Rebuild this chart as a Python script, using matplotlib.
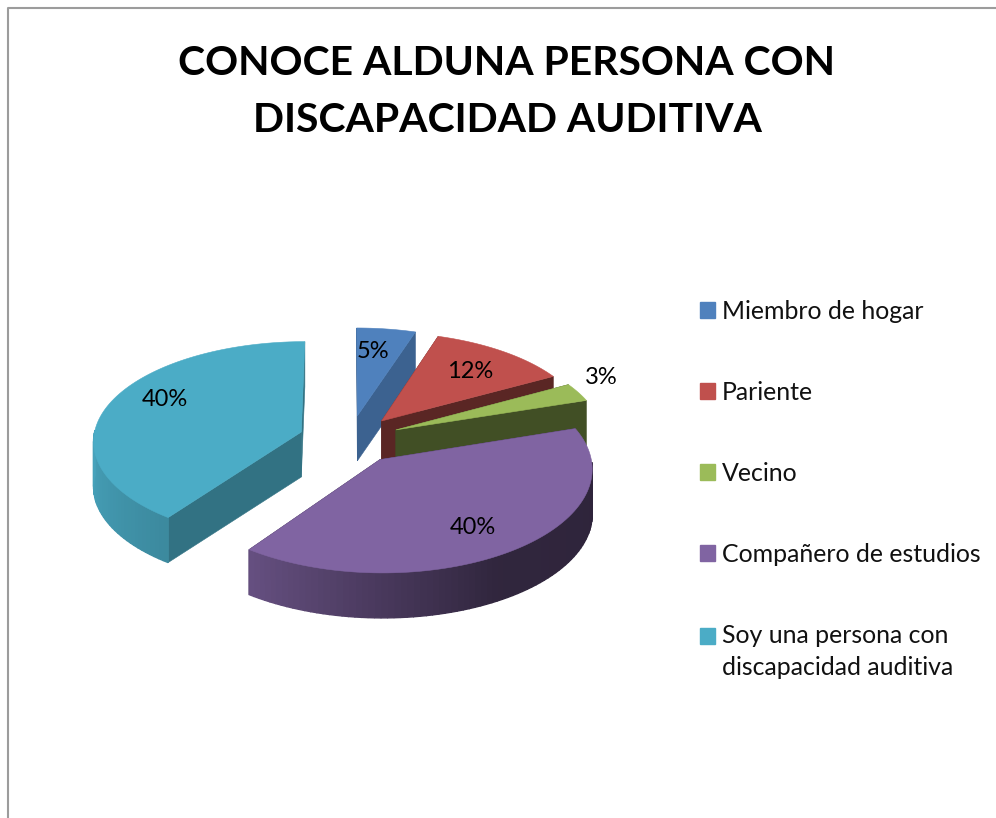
import numpy as np
import matplotlib
matplotlib.use("Agg")
import matplotlib.pyplot as plt
from matplotlib.patches import Polygon, Patch

categories = ["Miembro de hogar", "Pariente", "Vecino", "Compañero de estudios",
              "Soy una persona con\ndiscapacidad auditiva"]
values = [5, 12, 3, 40, 40]
labels = ["5%", "12%", "3%", "40%", "40%"]
colors = ["#4F81BD", "#C0504D", "#9BBB59", "#8064A2", "#4BACC6"]
title = "CONOCE ALDUNA PERSONA CON\nDISCAPACIDAD AUDITIVA"

# projection of the pie's ground plane to the pixel grid
CX, CY, RX, RY, PERSP_X, PERSP_Y, EXPLODE, DEPTH = 349.5, 439.5, 208, 99.6, 0.08, 0.088, 0.245, 45
wall_shade = [0.76, 0.47, 0.42, 0.40, 0.66]
label_xy = [(373, 352), (470, 372), (601, 378), (473, 528), (165, 400)]

plt.rcParams["font.family"] = ["Lato", "DejaVu Sans"]
fig = plt.figure(figsize=(9.96, 8.18), dpi=100)
ax = fig.add_axes([0, 0, 1, 1])
ax.set_xlim(0, 996)
ax.set_ylim(818, 0)
ax.axis("off")

ax.plot([8, 8, 996], [818, 8, 8], color="#9C9C9C", lw=1.5, solid_capstyle="butt")


def project(x, y):
    return CX + RX * x / (1 + PERSP_X * y), CY - RY * y / (1 + PERSP_Y * y)


def shade(c, k):
    return tuple(v * k for v in matplotlib.colors.to_rgb(c))


def poly(pts, col, z, lw=0.4):
    ax.add_patch(Polygon(pts, closed=True, facecolor=col, edgecolor=col, lw=lw, zorder=z))


order = [0, 1, 2, 4, 3]
edges = np.concatenate([[0], np.cumsum(values)]) / np.sum(values) * 360
for z, i in enumerate(order):
    a0, a1 = edges[i], edges[i + 1]
    mid = np.radians((a0 + a1) / 2)
    ox, oy = EXPLODE * np.sin(mid), EXPLODE * np.cos(mid)
    th = np.linspace(a0, a1, 90)
    xs = ox + np.sin(np.radians(th))
    ys = oy + np.cos(np.radians(th))
    px, py = project(xs, ys)
    ax0, ay0 = project(ox, oy)
    base = z * 10
    # radial walls
    for j in (0, -1):
        poly([(ax0, ay0), (px[j], py[j]),
              (px[j], py[j] + DEPTH), (ax0, ay0 + DEPTH)],
             shade(colors[i], wall_shade[i]), base + 1)
    # outer wall, shaded strip by strip, only the part that faces the viewer
    for k in range(len(th) - 1):
        if not 90 <= th[k] <= 270:
            continue
        s = np.interp(th[k], [90, 150, 216, 270], [0.36, 0.38, 0.8, 0.95])
        poly([(px[k], py[k]), (px[k + 1], py[k + 1]),
              (px[k + 1], py[k + 1] + DEPTH), (px[k], py[k] + DEPTH)],
             shade(colors[i], s), base + 2, lw=1.0)
    # top face
    poly([(ax0, ay0)] + list(zip(px, py)), colors[i], base + 3)

for t, (x, y) in zip(labels, label_xy):
    ax.text(x, y, t, ha="center", va="center", fontsize=17, color="black", zorder=100)

ax.text(507, 92, title, ha="center", va="center", fontsize=29.4, fontweight="bold",
        color="black", linespacing=1.65)

handles = [Patch(facecolor=c, edgecolor=c, label=n) for c, n in zip(colors, categories)]
leg = ax.legend(handles=handles, loc="upper left", bbox_to_anchor=(700 / 996, 1 - 300 / 818),
                frameon=False, fontsize=17.9, handlelength=0.6, handleheight=0.6,
                handletextpad=0.28, labelspacing=2.33, borderpad=0, borderaxespad=0,
                labelcolor="#111111")
leg.get_texts()[-1].set_linespacing(1.48)
last = leg.legend_handles[-1]
last.set_y(last.get_y() + 11.5)

fig.savefig("out.png", dpi=100)
